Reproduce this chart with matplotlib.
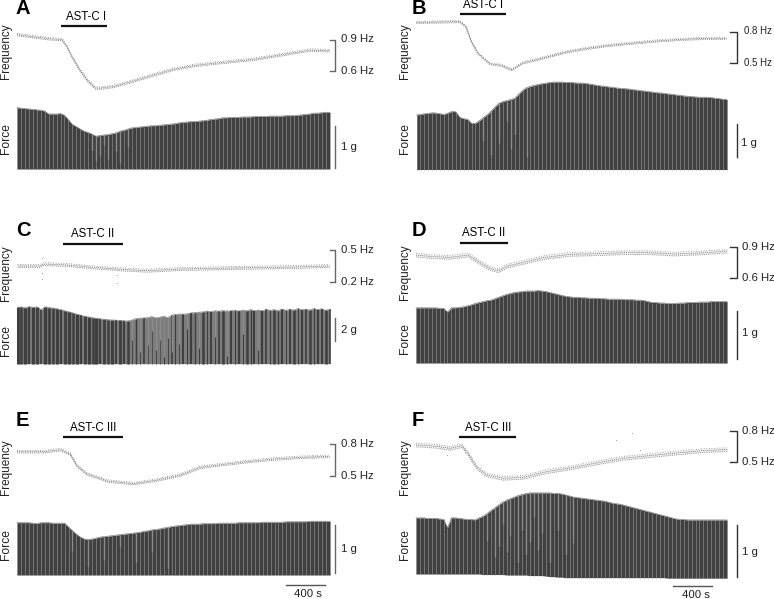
import matplotlib
matplotlib.use("Agg")
import matplotlib.pyplot as plt
from matplotlib.transforms import blended_transform_factory

plt.rcParams["font.family"] = ["Liberation Sans", "DejaVu Sans"]

W, H = 774, 599
SEC_PER_PX = 10.26

# frequency traces: time (s), rate (Hz)
freq_a_t = [0, 171, 342, 462, 513, 564, 633, 718, 804, 855, 992, 1197, 1402, 1607, 1813, 2018, 2223, 2428, 2633, 2839, 3010, 3208]
freq_a_hz = [0.948, 0.926, 0.906, 0.90, 0.83, 0.734, 0.622, 0.51, 0.43, 0.43, 0.446, 0.50, 0.558, 0.612, 0.648, 0.67, 0.689, 0.708, 0.74, 0.772, 0.798, 0.791]
freq_b_t = [0, 445, 506, 564, 633, 752, 872, 975, 1094, 1231, 1368, 1539, 1744, 1949, 2189, 2462, 2736, 2975, 3181]
freq_b_hz = [0.887, 0.894, 0.848, 0.703, 0.59, 0.494, 0.477, 0.436, 0.503, 0.532, 0.565, 0.606, 0.639, 0.665, 0.687, 0.71, 0.726, 0.735, 0.735]
freq_c_t = [0, 233, 267, 506, 776, 1019, 1053, 1327, 1669, 2011, 2421, 2832, 3201]
freq_c_hz = [0.349, 0.349, 0.367, 0.358, 0.336, 0.32, 0.317, 0.304, 0.32, 0.326, 0.333, 0.339, 0.349]
freq_d_t = [0, 178, 349, 537, 639, 759, 844, 937, 1101, 1306, 1580, 1854, 2127, 2401, 2640, 2914, 3194]
freq_d_hz = [0.819, 0.803, 0.797, 0.819, 0.755, 0.69, 0.668, 0.713, 0.748, 0.794, 0.826, 0.832, 0.842, 0.842, 0.829, 0.839, 0.858]
freq_e_t = [0, 274, 445, 547, 616, 718, 872, 923, 1197, 1436, 1676, 1881, 2086, 2360, 2633, 2907, 3208]
freq_e_hz = [0.727, 0.727, 0.746, 0.705, 0.595, 0.516, 0.469, 0.45, 0.425, 0.459, 0.507, 0.579, 0.604, 0.633, 0.658, 0.674, 0.683]
freq_f_t = [0, 212, 349, 469, 537, 622, 725, 896, 1101, 1341, 1580, 1854, 2127, 2401, 2674, 2948, 3194]
freq_f_hz = [0.668, 0.655, 0.635, 0.661, 0.581, 0.452, 0.377, 0.345, 0.355, 0.41, 0.445, 0.494, 0.539, 0.565, 0.59, 0.613, 0.623]

# stray beats off the main frequency band
stray_c_t = [250, 250, 250, 1019, 1019]
stray_c_hz = [0.421, 0.279, 0.226, 0.263, 0.185]
stray_f_t = [320, 2049, 2220, 2300]
stray_f_hz = [0.57, 0.72, 0.78, 0.62]

# half width of the frequency band (Hz)
band = [0.012, 0.010, 0.014, 0.018, 0.012, 0.018]

# peak force per beat (g)
force_a = [1.46, 1.45, 1.44, 1.43, 1.42, 1.41, 1.40, 1.38, 1.31, 1.31, 1.31, 1.32, 1.28, 1.17, 1.06, 1.01, 0.95, 0.90, 0.87, 0.83,
           0.78, 0.80, 0.81, 0.82, 0.84, 0.86, 0.90, 0.92, 0.95, 0.98, 0.99, 1.00, 1.01, 1.02, 1.03, 1.03, 1.04, 1.05, 1.06, 1.07,
           1.08, 1.10, 1.11, 1.12, 1.13, 1.13, 1.14, 1.15, 1.16, 1.18, 1.19, 1.20, 1.22, 1.22, 1.23, 1.23, 1.23, 1.24, 1.24, 1.24,
           1.25, 1.25, 1.25, 1.25, 1.26, 1.26, 1.26, 1.26, 1.27, 1.27, 1.27, 1.28, 1.29, 1.30, 1.31, 1.33, 1.33, 1.34, 1.35, 1.35]
force_b = [1.65, 1.67, 1.69, 1.70, 1.72, 1.71, 1.69, 1.67, 1.71, 1.76, 1.75, 1.58, 1.54, 1.52, 1.40, 1.40, 1.48, 1.57, 1.66, 1.77,
           1.90, 2.01, 2.06, 2.09, 2.12, 2.16, 2.28, 2.40, 2.48, 2.52, 2.55, 2.58, 2.60, 2.62, 2.64, 2.65, 2.65, 2.65, 2.64, 2.64,
           2.63, 2.62, 2.62, 2.61, 2.59, 2.57, 2.55, 2.53, 2.52, 2.50, 2.49, 2.47, 2.46, 2.45, 2.44, 2.42, 2.41, 2.39, 2.38, 2.36,
           2.35, 2.33, 2.32, 2.31, 2.29, 2.28, 2.26, 2.25, 2.23, 2.22, 2.21, 2.20, 2.19, 2.19, 2.19, 2.18, 2.16, 2.15, 2.13, 2.12]
force_c = [4.90, 4.94, 4.86, 4.96, 4.90, 4.94, 4.70, 4.95, 4.88, 4.84, 4.78, 4.70, 4.60, 4.52, 4.42, 4.30, 4.22, 4.12, 4.06, 4.00,
           3.94, 3.90, 3.86, 3.82, 3.80, 3.78, 3.76, 3.73, 3.71, 3.80, 3.92, 3.96, 3.98, 4.00, 4.10, 3.98, 4.04, 4.12, 4.00, 4.20,
           4.28, 4.32, 4.30, 4.34, 4.42, 4.45, 4.48, 4.50, 4.58, 4.52, 4.60, 4.56, 4.62, 4.58, 4.60, 4.64, 4.58, 4.66, 4.60, 4.70,
           4.62, 4.66, 4.60, 4.72, 4.64, 4.70, 4.62, 4.74, 4.64, 4.72, 4.66, 4.80, 4.68, 4.74, 4.66, 4.80, 4.70, 4.78, 4.64, 4.72]
force_d = [1.15, 1.15, 1.15, 1.15, 1.15, 1.15, 1.14, 1.14, 1.06, 1.15, 1.15, 1.16, 1.17, 1.19, 1.21, 1.24, 1.26, 1.28, 1.30, 1.31,
           1.34, 1.37, 1.40, 1.43, 1.45, 1.47, 1.48, 1.49, 1.50, 1.50, 1.50, 1.51, 1.50, 1.49, 1.47, 1.45, 1.43, 1.41, 1.39, 1.38,
           1.37, 1.37, 1.36, 1.36, 1.35, 1.35, 1.35, 1.34, 1.34, 1.33, 1.33, 1.33, 1.33, 1.32, 1.32, 1.32, 1.31, 1.31, 1.30, 1.28,
           1.26, 1.26, 1.25, 1.25, 1.24, 1.24, 1.24, 1.25, 1.25, 1.26, 1.26, 1.26, 1.27, 1.27, 1.27, 1.28, 1.28, 1.28, 1.28, 1.28]
force_e = [1.09, 1.09, 1.09, 1.09, 1.08, 1.07, 1.09, 1.09, 1.09, 1.08, 1.08, 1.08, 1.08, 1.00, 0.92, 0.85, 0.79, 0.75, 0.74, 0.75,
           0.77, 0.79, 0.80, 0.81, 0.82, 0.83, 0.84, 0.85, 0.86, 0.87, 0.88, 0.89, 0.91, 0.92, 0.94, 0.95, 0.96, 0.98, 0.99, 1.01,
           1.02, 1.03, 1.04, 1.05, 1.06, 1.06, 1.06, 1.07, 1.07, 1.07, 1.07, 1.08, 1.08, 1.08, 1.08, 1.08, 1.09, 1.09, 1.09, 1.09,
           1.09, 1.09, 1.10, 1.10, 1.10, 1.10, 1.10, 1.10, 1.11, 1.11, 1.11, 1.11, 1.11, 1.11, 1.12, 1.12, 1.12, 1.12, 1.12, 1.12]
force_f = [1.08, 1.08, 1.08, 1.07, 1.07, 1.07, 1.06, 1.05, 0.89, 1.08, 1.08, 1.07, 1.06, 1.05, 1.05, 1.04, 1.08, 1.11, 1.16, 1.22,
           1.27, 1.33, 1.38, 1.42, 1.45, 1.48, 1.51, 1.53, 1.55, 1.56, 1.56, 1.56, 1.56, 1.56, 1.56, 1.55, 1.55, 1.54, 1.52, 1.50,
           1.48, 1.47, 1.46, 1.45, 1.44, 1.43, 1.42, 1.41, 1.40, 1.38, 1.36, 1.35, 1.34, 1.32, 1.30, 1.28, 1.26, 1.24, 1.22, 1.20,
           1.18, 1.16, 1.14, 1.12, 1.10, 1.08, 1.06, 1.05, 1.05, 1.04, 1.04, 1.04, 1.04, 1.04, 1.04, 1.04, 1.04, 1.04, 1.04, 1.04]
# F trace sinks a little under its starting baseline
base_f = [0.0, 0.0, 0.0, 0.0, 0.0, 0.0, 0.0, 0.0, 0.0, 0.0, 0.0, 0.0, 0.0, 0.0, 0.0, 0.0, 0.0, -0.01, -0.01, -0.01,
          -0.01, -0.01, -0.01, -0.02, -0.02, -0.02, -0.02, -0.02, -0.02, -0.03, -0.03, -0.03, -0.03, -0.04, -0.05, -0.05, -0.06, -0.06, -0.07, -0.07,
          -0.07, -0.07, -0.07, -0.07, -0.07, -0.07, -0.07, -0.07, -0.07, -0.07, -0.07, -0.07, -0.07, -0.07, -0.07, -0.07, -0.07, -0.07, -0.07, -0.07,
          -0.07, -0.07, -0.07, -0.07, -0.08, -0.08, -0.08, -0.08, -0.08, -0.08, -0.08, -0.08, -0.08, -0.08, -0.08, -0.08, -0.08, -0.08, -0.08, -0.08]

# beats whose stroke shows up paler than the rest
pale_a = [19, 20, 21, 22, 23, 25, 26, 28]
pale_b = [17, 19, 21, 23, 24, 25, 28]
pale_c = [29, 31, 33, 34, 35, 36, 37, 38, 39, 41, 43, 46, 50, 53, 57, 61]
pale_d = []
pale_e = [14, 18, 22, 26, 30, 34, 38]
pale_f = [18, 20, 21, 22, 23, 24, 26, 27, 28, 29, 30, 31, 32, 34, 36, 38, 40]
# how far down a pale stroke reaches, as a share of its peak, repeated along the beats
pale_reach = [0.55, 0.25, 0.4, 0.7, 0.3, 0.5, 0.15]

# stroke widths of the dark beats in C, which read as an uneven comb
width_c = [2.2, 1.8, 2.4, 1.6, 2.2, 2.0, 1.2, 2.4, 2.0, 1.8, 2.2, 1.6, 2.0, 2.4, 1.8, 2.2, 1.6, 2.0, 2.2, 1.8,
           2.4, 1.6, 2.0, 1.8, 2.2, 1.4, 2.0, 1.6, 1.8, 0.6, 1.0, 0.6, 1.2, 0.5, 0.5, 0.6, 0.5, 0.8, 0.6, 1.2,
           0.8, 0.6, 1.4, 0.8, 1.6, 1.0, 0.7, 1.8, 0.8, 1.4, 0.7, 1.2, 1.8, 0.7, 1.4, 0.8, 1.6, 0.7, 1.8, 1.0,
           1.4, 0.7, 1.6, 1.2, 0.8, 1.8, 1.0, 1.6, 0.8, 1.4, 1.8, 0.8, 1.6, 1.2, 1.8, 0.9, 1.6, 1.4, 1.8, 1.2]

stim_a = [451, 923]
stim_b = [451, 917]
stim_c = [462, 1081]
stim_d = [451, 940]
stim_e = [472, 1087]
stim_f = [445, 1026]

names = ["AST-C I", "AST-C I", "AST-C II", "AST-C II", "AST-C III", "AST-C III"]
letters = ["A", "B", "C", "D", "E", "F"]
hz_top = [0.9, 0.8, 0.5, 0.9, 0.8, 0.8]
hz_bottom = [0.6, 0.5, 0.2, 0.6, 0.5, 0.5]
force_scale = [1, 1, 2, 1, 1, 1]
# where the force scale bar starts above the baseline (g)
force_lift = [0.02, 0.38, 1.97, 0.08, 0.04, -0.06]

# layout in reference pixels, one row per panel:
# x0, x1, y of top Hz, y of bottom Hz, force baseline, force bar height, scale x, label x, Hz font
layout = [
    (17, 329.5, 39.5, 70.5, 169, 42, 334.5, 341, 8.2),
    (416.5, 727, 31.5, 63, 169.5, 33, 736.7, 744, 7.0),
    (17.5, 329.5, 250, 281.7, 363.7, 23, 334.5, 341, 8.2),
    (416, 727, 246.7, 277.7, 363, 48, 736.7, 741.7, 8.2),
    (17, 330, 444, 475.7, 575, 48, 334.5, 341, 8.2),
    (416, 727, 431.3, 462.3, 574, 52, 736.7, 741.7, 8.2),
]
# stim bar y, stim label x, y; letter x, y; ylabel x; frequency y; force y; force label y
labels = [
    (25.7, 86, 16.7, 16, 8, 6, 51, 139, 146.7),
    (14, 483, 4.5, 412, 8, 405, 51, 139, 143),
    (243.7, 93, 234, 16, 230, 6, 273, 340, 330),
    (243, 484, 233.3, 412, 230, 405, 271.7, 338, 333),
    (437.3, 93.3, 428, 16, 420.7, 6, 467, 545, 549),
    (437, 487.7, 428, 412, 420.7, 405, 467, 545, 551.7),
]
scale_colors = ["#666666", "#333333", "#666666", "#333333", "#666666", "#333333"]

freq_t = [freq_a_t, freq_b_t, freq_c_t, freq_d_t, freq_e_t, freq_f_t]
freq_hz = [freq_a_hz, freq_b_hz, freq_c_hz, freq_d_hz, freq_e_hz, freq_f_hz]
forces = [force_a, force_b, force_c, force_d, force_e, force_f]
pales = [pale_a, pale_b, pale_c, pale_d, pale_e, pale_f]
stims = [stim_a, stim_b, stim_c, stim_d, stim_e, stim_f]


def px_axes(fig, x0, x1, y_top, y_bottom):
    ax = fig.add_axes([x0 / W, 1 - y_bottom / H, (x1 - x0) / W, (y_bottom - y_top) / H])
    ax.axis("off")
    return ax


fig = plt.figure(figsize=(W / 100, H / 100), dpi=100)
page = fig.add_axes([0, 0, 1, 1])
page.set_xlim(0, W)
page.set_ylim(H, 0)
page.axis("off")

for i in range(6):
    x0, x1, y_hi, y_lo, y_base, bar_h, scale_x, label_x, hz_font = layout[i]
    stim_y, stim_x, stim_ty, let_x, let_y, yl_x, freq_y, force_y, force_ly = labels[i]
    span = (x1 - x0) * SEC_PER_PX

    # frequency trace
    ax = px_axes(fig, x0, x1, y_hi, y_lo)
    ax.set_xlim(0, span)
    ax.set_ylim(hz_bottom[i], hz_top[i])
    t = freq_t[i]
    hz = freq_hz[i]
    d = band[i]
    ax.fill_between(t, [v - d for v in hz], [v + d for v in hz], color="#eeeeee", lw=0, clip_on=False)
    for offset, dash in ((-d, (1, 1.6)), (d, (1, 2.1))):
        ax.plot(t, [v + offset for v in hz], color="#808080", lw=0.6, ls=(0, dash), clip_on=False)
    ax.plot(t, hz, color="#666666", lw=0.5, ls=(0, (1.5, 1.5)), clip_on=False)
    if i == 2:
        ax.scatter(stray_c_t, stray_c_hz, s=0.6, color="#999999", lw=0, clip_on=False)
    if i == 5:
        ax.scatter(stray_f_t, stray_f_hz, s=0.6, color="#999999", lw=0, clip_on=False)

    # stimulus bar
    to_stim = blended_transform_factory(ax.transData, page.transData)
    ax.plot(stims[i], [stim_y, stim_y], color="#111111", lw=1.6, transform=to_stim, clip_on=False, solid_capstyle="butt")

    # Hz bracket
    to_scale = blended_transform_factory(page.transData, ax.transData)
    tick = scale_x - (4.5 if scale_x < 400 else 6.7)
    ax.plot([tick, scale_x, scale_x, tick], [hz_top[i], hz_top[i], hz_bottom[i], hz_bottom[i]],
            color=scale_colors[i], lw=1.0, transform=to_scale, clip_on=False)

    # force trace
    fx = px_axes(fig, x0, x1, y_base - bar_h, y_base)
    fx.set_xlim(0, span)
    fx.set_ylim(0, force_scale[i])
    vals = forces[i]
    beats = [n * span / (len(vals) - 1) for n in range(len(vals))]
    base = base_f if i == 5 else [0.0] * len(vals)
    if i == 2:
        fx.fill_between(beats, base, vals, color="#7c7c7c", lw=0, clip_on=False)
        fx.vlines(beats, base, vals, color="#3f3f3f", lw=width_c, clip_on=False)
    else:
        fx.fill_between(beats, base, vals, color="#404040", lw=0, clip_on=False)
        fx.vlines(beats, base, vals, color="#8a8a8a", lw=0.5, clip_on=False)
    if pales[i]:
        pale_x = [beats[n] for n in pales[i]]
        pale_top = [vals[n] for n in pales[i]]
        pale_low = [v * pale_reach[k % len(pale_reach)] for k, v in enumerate(pale_top)]
        fx.vlines(pale_x, pale_low, pale_top, color="#8c8c8c", lw=1.0, clip_on=False)
    fx.plot(beats, vals, color="#808080", lw=0.5, clip_on=False)

    # force scale bar
    to_scale = blended_transform_factory(page.transData, fx.transData)
    lift = force_lift[i]
    fx.plot([scale_x, scale_x], [lift, lift + force_scale[i]], color=scale_colors[i], lw=1.0,
            transform=to_scale, clip_on=False)

    # text
    page.text(stim_x, stim_ty, names[i], fontsize=8.3, ha="center", va="center")
    page.text(let_x, let_y, letters[i], fontsize=14.5, fontweight="bold", ha="left", va="center")
    page.text(yl_x, freq_y, "Frequency", fontsize=8.5, rotation=90, ha="center", va="center", color="#222222")
    page.text(yl_x, force_y, "Force", fontsize=8.7, rotation=90, ha="center", va="center", color="#222222")
    page.text(label_x, y_hi, f"{hz_top[i]} Hz", fontsize=hz_font, ha="left", va="center", color="#222222")
    page.text(label_x, y_lo, f"{hz_bottom[i]} Hz", fontsize=hz_font, ha="left", va="center", color="#222222")
    page.text(label_x if i != 1 else 741, force_ly, f"{force_scale[i]} g", fontsize=8.2, ha="left", va="center", color="#222222")

    # time scale under the bottom panels
    if i >= 4:
        start = 2757 if i == 4 else 2640
        to_time = blended_transform_factory(fx.transData, page.transData)
        y_bar = 584.7 if i == 4 else 585.7
        fx.plot([start, start + 400], [y_bar, y_bar], color="#555555", lw=1.0, transform=to_time, clip_on=False)
        page.text(308 if i == 4 else 696, 594 if i == 4 else 595, "400 s", fontsize=8.2, ha="center", va="center", color="#222222")

fig.savefig("out.png", dpi=100)
